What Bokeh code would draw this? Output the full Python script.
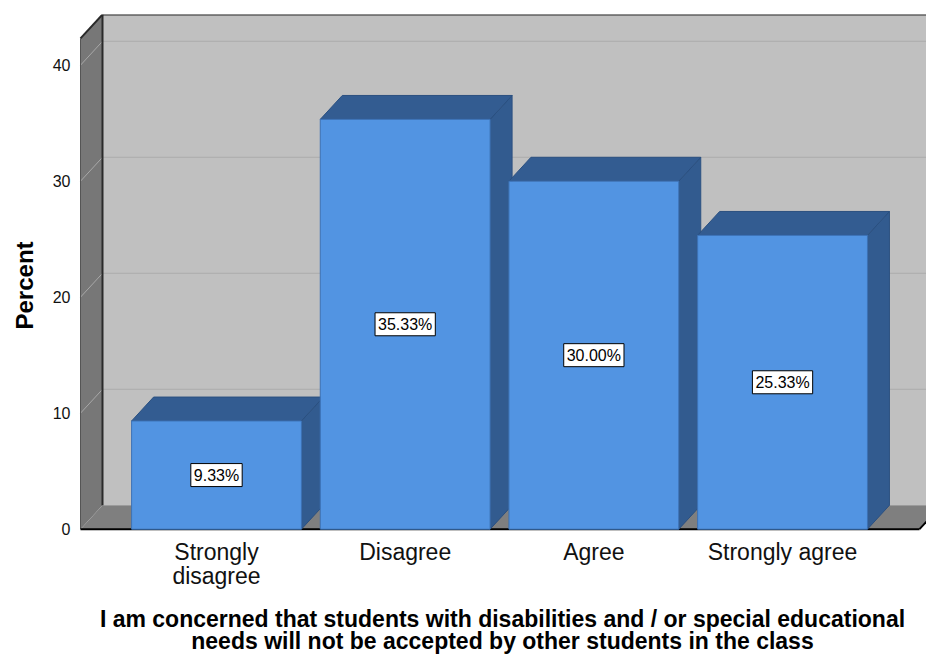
from bokeh.plotting import figure
from bokeh.models import ColumnDataSource, Label, FixedTicker, Range1d, Title
from bokeh.embed import file_html
from bokeh.resources import INLINE

# ---- data ----
categories = ["Strongly disagree", "Disagree", "Agree", "Strongly agree"]
tick_labels = ["Strongly\ndisagree", "Disagree", "Agree", "Strongly agree"]
percent = [9.33, 35.33, 30.00, 25.33]
value_labels = ["9.33%", "35.33%", "30.00%", "25.33%"]
y_ticks = [0, 10, 20, 30, 40]

x_title = ("I am concerned that students with disabilities and / or special educational\n"
           "needs will not be accepted by other students in the class")
y_title = "Percent"

# ---- 3D box geometry (data units) ----
BAR_W = 0.9
DX = 0.1166      # depth offset along x
DY = 2.06        # depth offset along y
X0 = -0.7208     # front-left edge of the box
X1 = 3.726       # front-right edge of the box
WALL_TOP = 42.31

FONT = "Liberation Sans"

p = figure(width=926, height=657, output_backend="svg", toolbar_location=None,
           x_range=Range1d(-0.7314, 3.763), y_range=Range1d(-0.2, WALL_TOP + DY),
           min_border_left=78, min_border_right=0, min_border_top=14, min_border_bottom=125)
p.xgrid.visible = False
p.ygrid.visible = False
p.outline_line_color = None
p.background_fill_color = "white"
p.border_fill_color = "white"

# walls and floor
p.patch(x=[X0 + DX, X1 + DX, X1 + DX, X0 + DX], y=[DY, DY, WALL_TOP + DY, WALL_TOP + DY],
        fill_color="#C0C0C0", line_color=None)
p.patch(x=[X0, X0 + DX, X0 + DX, X0], y=[0, DY, WALL_TOP + DY, WALL_TOP],
        fill_color="#777777", line_color=None)
p.patch(x=[X0, X1, X1 + DX, X0 + DX], y=[0, 0, DY, DY],
        fill_color="#7F7F7F", line_color=None)

# gridlines on back wall and left wall
g = [t for t in y_ticks if t > 0]
grid_src = ColumnDataSource(dict(
    bx0=[X0 + DX] * len(g), bx1=[X1 + DX] * len(g), by=[t + DY for t in g],
    lx0=[X0] * len(g), ly0=g, lx1=[X0 + DX] * len(g), ly1=[t + DY for t in g]))
p.segment(x0="bx0", y0="by", x1="bx1", y1="by", source=grid_src, line_color="#ABABAB", line_width=1)
p.segment(x0="lx0", y0="ly0", x1="lx1", y1="ly1", source=grid_src, line_color="#A8A8A8", line_width=1)

# dark edges of the box
p.multi_line(xs=[[X0 + DX, X1 + DX], [X0 + DX, X0 + DX], [X0, X0 + DX]],
             ys=[[WALL_TOP + DY, WALL_TOP + DY], [DY, WALL_TOP + DY], [WALL_TOP, WALL_TOP + DY]],
             line_color="#2A2A2A", line_width=2)
p.multi_line(xs=[[X0, X0]], ys=[[0, WALL_TOP]], line_color="#555555", line_width=1)
p.multi_line(xs=[[X0, X1], [X1, X1 + DX]], ys=[[0, 0], [0, DY]],
             line_color="#000000", line_width=2)

# bars
hw = BAR_W / 2
xs = list(range(len(categories)))
side_xs = [[i + hw, i + hw + DX, i + hw + DX, i + hw] for i in xs]
side_ys = [[0, DY, v + DY, v] for v in percent]
top_xs = [[i - hw, i - hw + DX, i + hw + DX, i + hw] for i in xs]
top_ys = [[v, v + DY, v + DY, v] for v in percent]
p.patches(xs=side_xs, ys=side_ys, fill_color="#325B8F", line_color="#2B5080", line_width=1)
p.patches(xs=top_xs, ys=top_ys, fill_color="#335C91", line_color="#2B5080", line_width=1)
bar_src = ColumnDataSource(dict(x=xs, top=percent, cat=categories))
p.vbar(x="x", top="top", bottom=0, width=BAR_W, source=bar_src,
       fill_color="#5294E2", line_color="#3D72B5", line_width=1)

# value labels
for i, v, lab in zip(xs, percent, value_labels):
    p.add_layout(Label(x=i, y=v / 2, text=lab, text_align="center", text_baseline="middle",
                       text_font=FONT, text_font_size="16px", text_color="black",
                       background_fill_color="white", border_line_color="black",
                       border_line_width=1, padding=3))

# y axis
ya = p.yaxis[0]
ya.ticker = FixedTicker(ticks=y_ticks)
ya.axis_line_color = None
ya.major_tick_line_color = None
ya.minor_tick_line_color = None
ya.major_label_standoff = 2
ya.major_label_text_font = FONT
ya.major_label_text_font_size = "16px"
ya.major_label_text_color = "#111111"

# y title as a left-side title (offset from the bottom of the frame)
p.add_layout(Title(text=y_title, align="left", offset=202, standoff=20, vertical_align="top",
                   text_font=FONT, text_font_style="bold", text_font_size="24px",
                   text_color="black"), "left")

# x axis
xa = p.xaxis[0]
xa.ticker = FixedTicker(ticks=xs)
xa.major_label_overrides = {i: lab for i, lab in zip(xs, tick_labels)}
xa.axis_line_color = None
xa.major_tick_line_color = None
xa.minor_tick_line_color = None
xa.major_label_standoff = 1
xa.major_label_text_font = FONT
xa.major_label_text_font_size = "23px"
xa.major_label_text_line_height = 0.95
xa.major_label_text_color = "#111111"
xa.axis_label = x_title
xa.axis_label_text_font = FONT
xa.axis_label_text_font_style = "bold"
xa.axis_label_text_font_size = "23px"
xa.axis_label_text_line_height = 0.85
xa.axis_label_text_color = "black"
xa.axis_label_standoff = 14

open("out.html", "w").write(file_html(p, INLINE))
